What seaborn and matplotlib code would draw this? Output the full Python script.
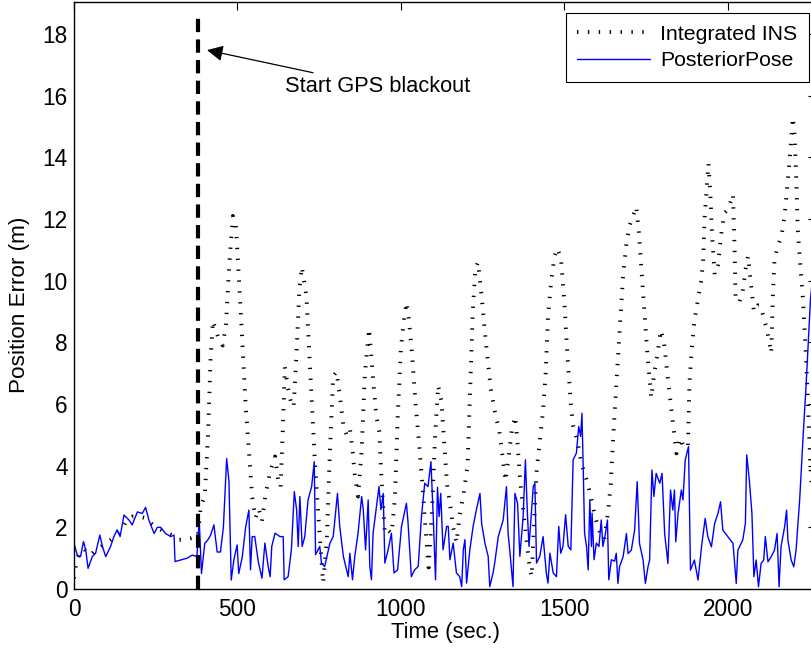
import numpy as np
import pandas as pd
import matplotlib
matplotlib.use("Agg")
import matplotlib.pyplot as plt
import seaborn as sns

# ---------------- data ----------------
pp_time = [0, 10, 20, 29, 36, 43, 56, 66, 79, 87, 97, 112, 122, 132, 141, 153, 168, 178,
           194, 209, 219, 229, 245, 255, 265, 280, 296, 306, 309, 326, 346, 362, 376,
           383, 390, 400, 410, 418, 428, 438, 448, 457, 467, 474, 481, 489, 499, 504,
           515, 525, 535, 540, 545, 553, 564, 575, 584, 594, 600, 605, 615, 630, 640,
           643, 655, 665, 674, 681, 686, 691, 698, 706, 716, 727, 735, 739, 752, 757,
           767, 783, 793, 806, 813, 824, 839, 844, 852, 859, 869, 880, 885, 892, 900,
           905, 910, 915, 933, 939, 946, 951, 961, 971, 979, 990, 1002, 1017, 1022,
           1032, 1042, 1053, 1063, 1073, 1083, 1092, 1099, 1106, 1112, 1117, 1122,
           1129, 1140, 1145, 1150, 1160, 1170, 1180, 1186, 1191, 1196, 1201, 1211,
           1221, 1231, 1242, 1247, 1257, 1267, 1272, 1282, 1287, 1298, 1313, 1323,
           1328, 1333, 1343, 1349, 1357, 1364, 1374, 1381, 1387, 1392, 1400, 1405,
           1410, 1415, 1425, 1435, 1445, 1450, 1456, 1466, 1476, 1483, 1489, 1496,
           1504, 1512, 1520, 1527, 1537, 1544, 1550, 1554, 1558, 1562, 1568, 1573,
           1578, 1583, 1585, 1591, 1598, 1606, 1613, 1618, 1626, 1632, 1636, 1644,
           1654, 1659, 1664, 1669, 1680, 1690, 1695, 1705, 1715, 1723, 1730, 1741,
           1748, 1756, 1761, 1768, 1774, 1781, 1792, 1799, 1807, 1817, 1825, 1832,
           1837, 1841, 1848, 1858, 1863, 1870, 1880, 1886, 1898, 1909, 1921, 1931,
           1939, 1950, 1960, 1970, 1978, 1985, 2000, 2016, 2026, 2031, 2046, 2054,
           2058, 2066, 2074, 2080, 2087, 2094, 2102, 2110, 2115, 2123, 2133, 2143,
           2151, 2157, 2163, 2174, 2180, 2184, 2194, 2202, 2209, 2220, 2230, 2240,
           2253, 2262]
pp_error = [1.48, 1.10, 1.05, 1.54, 1.26, 0.67, 1.05, 1.16, 1.75, 1.38, 1.05, 1.38, 1.70,
            1.92, 1.70, 2.40, 2.24, 2.08, 2.50, 2.45, 2.65, 2.24, 1.80, 2.00, 2.00, 1.80,
            1.70, 1.75, 0.89, 0.94, 1.00, 1.10, 1.05,
            2.24, 0.50, 1.48, 1.60, 1.75, 2.08, 1.20, 1.20, 2.00, 4.23, 3.50, 0.29, 0.94,
            1.43, 0.50, 1.05, 2.00, 2.56, 0.62, 1.70, 1.70, 0.87, 0.35, 1.49, 0.73, 0.40,
            1.38, 1.81, 1.70, 1.70, 0.30, 0.40, 1.27, 3.16, 2.57, 1.38, 3.00, 1.38, 1.70,
            2.89, 3.32, 4.13, 1.11, 1.38, 0.84, 0.73, 1.49, 1.70, 3.10, 2.03, 1.06, 0.40,
            1.16, 0.30, 1.06, 1.81, 3.00, 2.57, 1.27, 2.89, 0.73, 0.30, 1.81, 3.32, 2.57,
            3.10, 0.84, 1.27, 1.81, 0.52, 0.62, 2.03, 2.78, 2.14, 0.40, 0.62, 0.73, 2.35,
            3.43, 3.32, 4.13, 2.35, 0.30, 3.30, 2.35, 3.10, 1.27, 2.03, 2.03, 0.95, 1.49,
            0.52, 0.40, 0.08, 1.27, 1.60, 0.19, 1.27, 2.03, 2.57, 3.10, 2.14, 1.49, 1.06,
            0.08, 0.52, 0.84, 1.70, 2.24, 3.32, 1.81, 1.27, 0.08, 3.10, 2.78, 1.06, 2.35,
            4.19, 2.46, 1.38, 2.57, 3.32, 3.43, 0.84, 1.06, 1.70, 0.52, 0.19, 1.16, 0.52,
            0.40, 2.03, 1.16, 1.38, 2.41, 1.38, 1.27, 4.19, 4.41, 5.27, 4.95, 5.70, 3.86,
            1.81, 1.38, 0.62, 2.89, 1.38, 2.46, 0.95, 1.49, 1.38, 2.24, 1.38, 1.81, 2.24,
            0.30, 0.95, 0.90, 1.16, 0.18, 0.72, 1.05, 1.80, 1.15, 1.26, 1.90, 3.48, 1.48,
            0.94, 0.18, 0.72, 0.94, 3.86, 3.00, 3.75, 3.43, 3.75, 1.80, 0.83, 3.21, 2.56,
            3.21, 1.53, 2.45, 3.21, 2.89, 4.19, 4.62, 0.61, 0.94, 0.29, 1.48, 2.29, 1.70,
            1.37, 2.13, 2.45, 2.83, 1.91, 1.70, 1.48, 0.18, 1.26, 1.59, 2.13, 4.35, 3.54,
            2.45, 0.40, 0.94, 0.07, 0.83, 0.94, 1.70, 0.88, 1.05, 1.26, 1.80, 0.07, 1.37,
            2.02, 2.56, 1.59, 0.94, 0.72, 1.26, 2.89, 4.84, 6.68, 9.37, 10.4]

ins_time = [0, 5, 10, 20, 30, 40, 50, 60, 80, 100, 120, 140, 160, 180, 200, 220, 240,
            260, 280, 300, 320, 340, 360, 379, 388, 400, 410, 418, 425, 440, 455, 465,
            475, 486, 495, 505, 515, 525, 535, 545, 555, 565, 575, 585, 600, 615, 625,
            632, 640, 645, 655, 665, 672, 680, 690, 697, 711, 724, 737, 750, 762, 773,
            783, 793, 803, 813, 824, 834, 844, 852, 859, 869, 880, 890, 903, 915, 925,
            934, 941, 951, 961, 972, 982, 990, 1000, 1010, 1017, 1025, 1035, 1045, 1055,
            1065, 1075, 1085, 1095, 1105, 1114, 1124, 1134, 1142, 1150, 1160, 1170,
            1180, 1192, 1204, 1212, 1220, 1228, 1236, 1247, 1260, 1275, 1290, 1300,
            1310, 1320, 1330, 1340, 1350, 1357, 1365, 1375, 1385, 1393, 1400, 1407,
            1415, 1425, 1435, 1443, 1450, 1460, 1470, 1479, 1490, 1500, 1510, 1520,
            1527, 1540, 1550, 1560, 1570, 1583, 1595, 1610, 1622, 1634, 1642, 1650,
            1660, 1670, 1680, 1690, 1700, 1710, 1720, 1728, 1735, 1745, 1755, 1766,
            1775, 1785, 1795, 1805, 1817, 1830, 1843, 1855, 1865, 1878, 1883, 1890,
            1898, 1909, 1919, 1925, 1929, 1937, 1941, 1946, 1952, 1960, 1970, 1980,
            1990, 2000, 2010, 2016, 2021, 2024, 2035, 2045, 2055, 2062, 2070, 2080,
            2092, 2100, 2110, 2120, 2133, 2138, 2143, 2153, 2165, 2174, 2180, 2190,
            2199, 2204, 2209, 2214, 2222, 2230, 2240, 2253, 2262]
ins_error = [0.35, 0.7, 1.0, 1.2, 1.3, 1.2, 1.1, 1.2, 1.35, 1.5, 1.65, 1.85, 2.2, 2.35,
             2.35, 2.3, 2.1, 1.95, 1.85, 1.75, 1.6, 1.6, 1.65, 1.7, 2.7, 3.0, 5.0, 7.5,
             8.7, 8.2, 7.9, 8.6, 10.5, 12.1, 11.8, 10.0, 8.0, 6.0, 4.5, 3.0, 2.3, 2.6,
             2.2, 3.0, 3.8, 4.3, 3.5, 3.3, 5.5, 7.2, 6.5, 6.0, 5.9, 7.5, 9.8, 10.45, 9.5,
             6.8, 4.1, 2.0, 0.2, 1.5, 4.5, 6.9, 7.05, 6.3, 5.3, 5.0, 5.2, 4.5, 3.7, 3.0,
             4.5, 7.0, 8.45, 6.8, 5.6, 5.1, 3.5, 1.8, 1.9, 1.8, 3.0, 5.5, 7.8, 8.8, 9.3,
             8.7, 7.5, 6.0, 4.8, 3.5, 2.0, 0.7, 2.5, 5.0, 6.6, 6.1, 4.5, 3.3, 2.8, 2.0,
             1.5, 2.4, 3.1, 4.0, 6.5, 9.0, 10.4, 10.6, 9.5, 8.0, 6.5, 5.6, 5.2, 4.4, 3.5,
             4.3, 5.2, 5.6, 4.7, 3.5, 2.5, 1.5, 0.8, 0.4, 2.0, 3.8, 4.8, 5.8, 7.0, 8.8,
             10.0, 10.8, 11.05, 10.7, 9.3, 7.5, 6.0, 5.3, 4.8, 4.2, 3.8, 3.5, 2.9, 2.3,
             1.8, 1.6, 2.5, 3.4, 5.0, 6.8, 8.5, 10.2, 11.2, 11.8, 12.1, 12.4, 11.6, 10.5,
             9.0, 7.5, 6.2, 7.0, 7.6, 8.4, 8.0, 6.8, 5.6, 4.4, 4.9, 4.6, 4.6, 6.7, 7.8,
             8.7, 9.4, 10.0, 10.7, 12.0, 13.2, 13.8, 13.0, 11.5, 10.2, 10.5, 11.5, 12.2,
             12.3, 12.6, 12.8, 11.0, 9.4, 9.3, 9.6, 10.4, 10.8, 10.0, 9.0, 9.2, 9.2, 8.8,
             8.4, 7.65, 9.5, 10.7, 11.1, 11.5, 12.1, 12.8, 14.0, 15.3, 14.8, 13.5, 11.7,
             10.5, 9.4, 7.4, 4.0, 2.5]

blackout_time = 379
blackout_top = 18.62
x_ticks = [0, 500, 1000, 1500, 2000]
y_ticks = [0, 2, 4, 6, 8, 10, 12, 14, 16, 18]

# ---------------- style ----------------
sns.set_theme(style="white")
plt.rcParams["font.family"] = ["Liberation Sans", "DejaVu Sans"]
plt.rcParams["axes.edgecolor"] = "black"
plt.rcParams["axes.linewidth"] = 1.0
plt.rcParams["text.color"] = "black"
plt.rcParams["axes.labelcolor"] = "black"

W, H = 811, 650
fig = plt.figure(figsize=(W / 100, H / 100), dpi=100)
ax = fig.add_axes([74 / W, (H - 589) / H, (816 - 74) / W, (589 - 2) / H])

df_ins = pd.DataFrame({"t": ins_time, "e": ins_error})
df_pp = pd.DataFrame({"t": pp_time, "e": pp_error})

sns.lineplot(data=df_ins, x="t", y="e", ax=ax, color="black", linewidth=2.8,
             linestyle=(0, (0.35, 2.45)), dash_capstyle="butt",
             estimator=None, sort=False, label="Integrated INS")
sns.lineplot(data=df_pp, x="t", y="e", ax=ax, color="#0000ff", linewidth=1.0,
             estimator=None, sort=False, label="PosteriorPose")

ax.plot([blackout_time, blackout_time], [0, blackout_top], color="black",
        linewidth=3.0, linestyle=(0, (3.2, 1.75)), dash_capstyle="butt", zorder=3)

ax.annotate("Start GPS blackout", xy=(407, 17.48), xytext=(645, 16.3),
            fontsize=15.7, va="center", ha="left", color="black",
            arrowprops=dict(arrowstyle="-|>", color="black", lw=0.9,
                            mutation_scale=24, shrinkA=0, shrinkB=0))

ax.set_xlim(0, 2270)
ax.set_ylim(0, 19.04)
ax.set_xticks(x_ticks)
ax.set_yticks(y_ticks)
ax.tick_params(axis="both", which="both", direction="in", length=6, width=0.8,
               top=True, right=True, labelsize=16.3, colors="black")
ax.tick_params(axis="y", pad=4.5)
ax.tick_params(axis="x", pad=6.5)
ax.set_xlabel("Time (sec.)", fontsize=15.8, labelpad=1)
ax.set_ylabel("Position Error (m)", fontsize=16.2)
ax.yaxis.label.set_va("center")
ax.yaxis.set_label_coords((20 - 74) / 742, (589 - 305) / 587)
for s in ax.spines.values():
    s.set_visible(True)
    s.set_color("black")

leg = ax.legend(loc="upper right", bbox_to_anchor=(809 / W, 1 - 13 / H),
                bbox_transform=fig.transFigure, borderaxespad=0,
                frameon=True, fancybox=False, framealpha=1, edgecolor="black",
                fontsize=15.3, handlelength=3.4, handletextpad=0.5,
                borderpad=0.55, labelspacing=0.35)
leg.get_frame().set_linewidth(0.8)
for t in leg.get_texts():
    t.set_color("black")

fig.savefig("out.png", dpi=100)
